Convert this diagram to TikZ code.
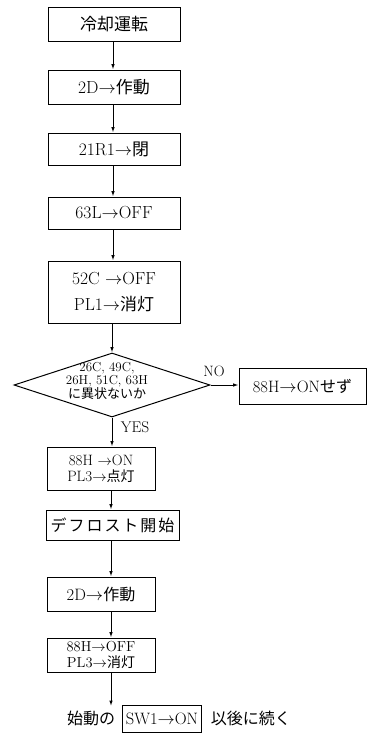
\documentclass[tikz,border=0pt]{standalone}
\usepackage{fontspec}
\newfontfamily\jp{Noto Sans CJK JP}
\usetikzlibrary{shapes.geometric,arrows.meta}
\newcommand{\myarr}{$\rightarrow$}
\newcommand{\fs}[2]{\fontsize{#1}{#2}\selectfont}
\begin{document}
\begin{tikzpicture}[x=1pt,y=-1pt,
  box/.style={draw, line width=1pt, inner sep=0pt, align=center},
  arr/.style={line width=1pt, -{Latex[length=5.5pt,width=3.6pt]}},
  lab/.style={inner sep=0pt}]
\useasboundingbox (0,0) rectangle (370,737);
\coordinate (ax) at (113,0);
\coordinate (bx) at (111,0);
\node[box, minimum width=132pt, minimum height=34pt, font=\fs{17}{20}] (b1) at (114,24) {\jp 冷却運転};
\node[box, minimum width=132pt, minimum height=34pt, font=\fs{17.5}{20}] (b2) at (114,87) {2D\myarr{\jp\fs{17}{20}作動}};
\node[box, minimum width=132pt, minimum height=32pt, font=\fs{17.5}{20}] (b3) at (114,149) {21R1\myarr{\jp\fs{17}{20}閉}};
\node[box, minimum width=132pt, minimum height=32pt, font=\fs{17.5}{20}] (b4) at (114,213) {63L\myarr OFF};
\node[box, minimum width=132pt, minimum height=62pt, font=\fs{17.5}{26}] (b5) at (114,292) {52C \myarr OFF\\PL1\myarr{\jp\fs{17}{26}消灯}};
\node[draw, line width=1pt, diamond, minimum width=196pt, minimum height=64pt, inner sep=0pt] (dia) at (112,385) {};
\node[lab, align=center, font=\fs{13}{13}] (diat) at (107,381) {26C, 49C,\\26H, 51C, 63H\\{\jp に異状ないか}};
\node[box, minimum width=127pt, minimum height=36pt, font=\fs{16.5}{18}] (rb) at (302.5,386) {88H\myarr ON{\jp\fs{16}{18}せず}};
\node[lab, font=\fs{15}{15}] (no) at (214,371) {NO};
\node[lab, font=\fs{15.5}{15}] (yes) at (135,427) {YES};
\node[box, minimum width=108pt, minimum height=43pt, font=\fs{15}{16}] (b6) at (101,468.5) {88H \myarr ON\\PL3\myarr{\jp\fs{14}{16}点灯}};
\node[box, minimum width=133pt, minimum height=30pt, font=\fs{16}{18}] (b7) at (112.5,525) {\jp デ\hspace{2pt}フ\hspace{2pt}ロ\hspace{2pt}ス\hspace{2pt}ト\hspace{2pt}開\hspace{2pt}始};
\node[box, minimum width=108pt, minimum height=34pt, font=\fs{16.5}{18}] (b8) at (101,594) {2D\myarr{\jp\fs{16}{18}作動}};
\node[box, minimum width=108pt, minimum height=34pt, font=\fs{14.5}{16}] (b9) at (101,655) {88H\myarr OFF\\PL3\myarr{\jp\fs{14}{16}消灯}};
\coordinate (e) at (111,706);
\node[box, line width=0.9pt, minimum height=27pt, inner xsep=3pt, font=\fs{16.5}{18}] (sw) at (162,718.5) {SW1\myarr ON};
\node[lab, anchor=base east, font=\fs{16}{18}] (t1) at ([xshift=-7pt]sw.base west) {\jp 始動の};
\node[lab, anchor=base west, font=\fs{16}{18}] (t2) at ([xshift=9pt]sw.base east) {\jp 以後に続く};
\draw[arr] (b1.south -| ax) -- (b2.north -| ax);
\draw[arr] (b2.south -| ax) -- (b3.north -| ax);
\draw[arr] (b3.south -| ax) -- (b4.north -| ax);
\draw[arr] (b4.south -| ax) -- (b5.north -| ax);
\draw[arr] (b5.south -| dia.north) -- (dia.north);
\draw[arr] (dia.east) -- (dia.east -| rb.west);
\draw[arr] (dia.south) -- (dia.south |- b6.north);
\draw[arr] (b6.south -| bx) -- (b7.north -| bx);
\draw[arr] (b7.south -| bx) -- (b8.north -| bx);
\draw[arr] (b8.south -| bx) -- (b9.north -| bx);
\draw[arr] (b9.south -| bx) -- (e);
\end{tikzpicture}
\end{document}
